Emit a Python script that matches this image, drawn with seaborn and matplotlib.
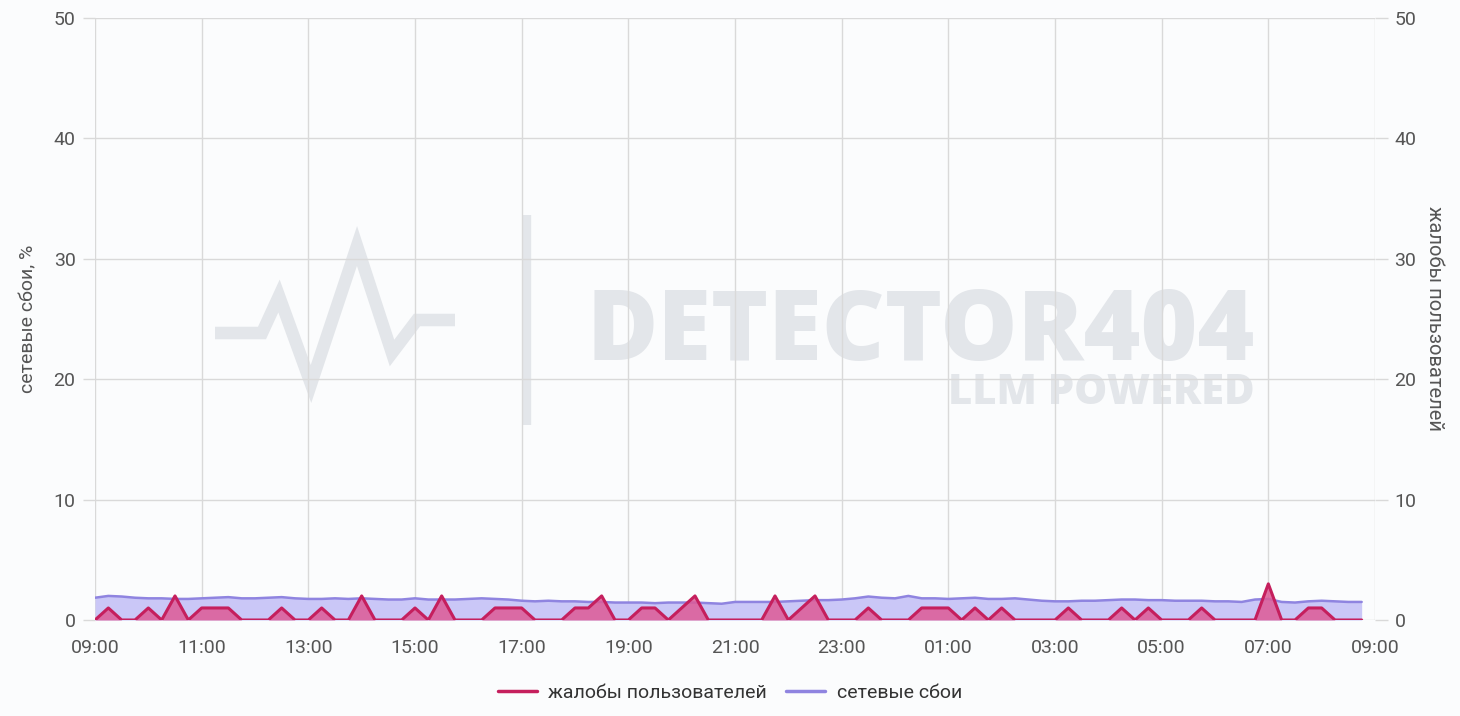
# network failures vs user complaints, 15-minute buckets over one day
import matplotlib
matplotlib.use('Agg')
import matplotlib.pyplot as plt
import matplotlib.dates as mdates
from matplotlib.lines import Line2D
import pandas as pd
import seaborn as sns

# time buckets: 09:00 .. 08:45 next day
times = pd.date_range('2024-05-01 09:00', periods=96, freq='15min')

# user complaints (right axis)
complaints = [0, 1, 0, 0, 1, 0, 2, 0, 1, 1, 1, 0, 0, 0, 1, 0,
              0, 1, 0, 0, 2, 0, 0, 0, 1, 0, 2, 0, 0, 0, 1, 1,
              1, 0, 0, 0, 1, 1, 2, 0, 0, 1, 1, 0, 1, 2, 0, 0,
              0, 0, 0, 2, 0, 1, 2, 0, 0, 0, 1, 0, 0, 0, 1, 1,
              1, 0, 1, 0, 1, 0, 0, 0, 0, 1, 0, 0, 0, 1, 0, 1,
              0, 0, 0, 1, 0, 0, 0, 0, 3, 0, 0, 1, 1, 0, 0, 0]

# network failures, % (left axis)
failures = [1.85, 2.0, 1.95, 1.85, 1.8, 1.8, 1.75, 1.75, 1.8, 1.85, 1.9, 1.8, 1.8, 1.85, 1.9, 1.8,
            1.75, 1.75, 1.8, 1.75, 1.8, 1.75, 1.7, 1.7, 1.8, 1.7, 1.7, 1.7, 1.75, 1.8, 1.75, 1.7,
            1.6, 1.55, 1.6, 1.55, 1.55, 1.5, 1.5, 1.45, 1.45, 1.45, 1.4, 1.45, 1.45, 1.45, 1.4, 1.35,
            1.5, 1.5, 1.5, 1.5, 1.55, 1.6, 1.65, 1.65, 1.7, 1.8, 1.95, 1.85, 1.8, 2.0, 1.8, 1.8,
            1.75, 1.8, 1.85, 1.75, 1.75, 1.8, 1.7, 1.6, 1.55, 1.55, 1.6, 1.6, 1.65, 1.7, 1.7, 1.65,
            1.65, 1.6, 1.6, 1.6, 1.55, 1.55, 1.5, 1.7, 1.75, 1.5, 1.45, 1.55, 1.6, 1.55, 1.5, 1.5]

y_ticks = [0, 10, 20, 30, 40, 50]

red_line = '#c51f5d'
red_fill = '#dd5a96'
purple_line = '#8f84e0'
purple_fill = '#cac7f7'
grid_color = '#d9d9d9'
text_color = '#555555'
mark_color = '#e3e6ea'

sns.set_style('white')
plt.rcParams['font.family'] = ['Roboto', 'DejaVu Sans']

fig = plt.figure(figsize=(14.6, 7.16), dpi=100, facecolor='#fbfcfd')
ax = fig.add_axes([95 / 1460, 1 - 620 / 716, 1280 / 1460, 602 / 716])
ax.set_facecolor('#fbfcfd')
ax2 = ax.twinx()

# watermark (drawn in axes fractions, under everything)
def fx(px):
    return (px - 95) / 1280

def fy(py):
    return (620 - py) / 602

logo_x = [215, 262, 279, 311, 357, 392, 417, 455]
logo_y = [333, 333, 296, 384, 246, 353, 320, 320]
ax.plot([fx(v) for v in logo_x], [fy(v) for v in logo_y], transform=ax.transAxes,
        color=mark_color, lw=9, solid_joinstyle='miter', solid_capstyle='butt', zorder=0.1)
ax.plot([fx(527), fx(527)], [fy(215), fy(425)], transform=ax.transAxes,
        color=mark_color, lw=6, solid_capstyle='butt', zorder=0.1)
ax.text(fx(1255), fy(360), 'DETECTOR404', transform=ax.transAxes, ha='right', va='baseline',
        fontsize=70, fontweight='extra bold', family='Open Sans', color=mark_color, zorder=0.1)
ax.text(fx(1255), fy(404), 'LLM POWERED', transform=ax.transAxes, ha='right', va='baseline',
        fontsize=30, fontweight='extra bold', family='Open Sans', color=mark_color, zorder=0.1)

# network failures on left axis
ax.fill_between(times, failures, 0, color=purple_fill, lw=0, zorder=1)
sns.lineplot(x=times, y=failures, ax=ax, color=purple_line, lw=1.8, zorder=2)

# complaints on right axis
ax2.fill_between(times, complaints, 0, color=red_fill, alpha=0.85, lw=0, zorder=1)
sns.lineplot(x=times, y=complaints, ax=ax2, color=red_line, lw=2.2, zorder=2)

start = pd.Timestamp('2024-05-01 09:00')
end = pd.Timestamp('2024-05-02 09:00')
for a in (ax, ax2):
    a.set_xlim(start, end)
    a.set_ylim(0, 50)
    a.set_yticks(y_ticks)
    for s in a.spines.values():
        s.set_visible(False)
    a.tick_params(axis='both', length=9, width=1, color=grid_color,
                  labelcolor=text_color, labelsize=14, pad=5)

ax.xaxis.set_major_locator(mdates.HourLocator(byhour=range(1, 24, 2)))
ax.xaxis.set_major_formatter(mdates.DateFormatter('%H:%M'))
ax.grid(True, color=grid_color, lw=1)
ax.set_axisbelow(True)
ax2.grid(False)

ax.set_xlabel('')
ax.set_ylabel('сетевые сбои, %', color=text_color, fontsize=14, labelpad=12)
ax2.set_ylabel('жалобы пользователей', color=text_color, fontsize=14.5,
               rotation=270, labelpad=20)

handles = [Line2D([], [], color=red_line, lw=2.5), Line2D([], [], color=purple_line, lw=2.5)]
fig.legend(handles, ['жалобы пользователей', 'сетевые сбои'], loc='center',
           bbox_to_anchor=(0.5, 1 - 693 / 716), ncol=2, frameon=False,
           fontsize=14, handlelength=2.0, handletextpad=0.6, columnspacing=1.0,
           labelcolor='#333333')

fig.savefig('out.png', dpi=100, facecolor=fig.get_facecolor())
